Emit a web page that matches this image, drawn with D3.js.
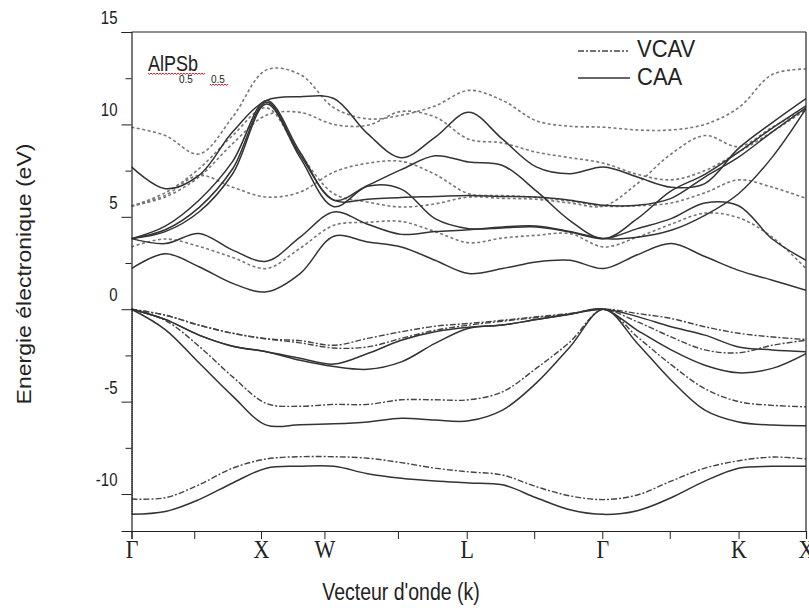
<!DOCTYPE html>
<html>
<head>
<meta charset="utf-8">
<script src="https://cdnjs.cloudflare.com/ajax/libs/d3/7.8.5/d3.min.js"></script>
<style>
  body { margin: 0; background: #fff; }
  text { font-family: "Liberation Sans", Arial, sans-serif; fill: #222; }
</style>
</head>
<body>
<script>
        //k points along the path, 0.5 steps between the symmetry points
        var kGrid = [0,0.5,1,1.5,2,2.5,3,3.5,4,4.5,5,5.5,6,6.5,7,7.5,8,8.5,9,9.5,10];

        //tick marks on the k axis (the original ones are not quite evenly spaced) and their labels
        var kTicks = [0,0.93,1.92,2.86,3.95,4.97,5.97,6.98,7.98,9.0,10];
        var kLabels = ["\u0393","","X","W","","L","","\u0393","","K","X"];

        //energy ticks
        var eMajor = [-10,-5,0,5,10,15];
        var eMinor = [-7.5,-2.5,2.5,7.5,12.5];

        //CAA bands (solid), valence
        var caaValence = [
            [-11.1,-10.95,-10.3,-9.4,-8.6,-8.5,-8.5,-8.9,-9.15,-9.3,-9.4,-9.5,-10.2,-10.85,-11.1,-10.9,-10.2,-9.3,-8.6,-8.5,-8.5],
            [0,-1.1,-2.9,-4.7,-6.27,-6.25,-6.2,-6.1,-5.9,-6.0,-6.04,-5.46,-4.0,-2.04,0,-1.85,-3.84,-5.46,-6.1,-6.27,-6.3],
            [0,-0.55,-1.4,-2.0,-2.3,-2.65,-2.97,-2.4,-1.68,-1.22,-0.98,-0.86,-0.56,-0.27,0,-0.4,-0.95,-1.4,-2.04,-2.2,-2.3],
            [0,-0.55,-1.4,-2.0,-2.3,-2.76,-3.1,-3.25,-2.85,-1.85,-1.03,-0.86,-0.56,-0.27,0,-1.14,-2.2,-3.03,-3.44,-3.2,-2.4]
        ];

        //CAA bands (solid), conduction
        var caaConduction = [
            [2.2,3.0,2.3,1.4,0.94,1.93,3.95,3.64,3.37,2.65,1.93,2.2,2.56,2.65,2.2,2.95,3.55,2.85,2.1,1.57,1.03],
            [3.82,3.55,4.1,3.2,2.6,3.9,5.26,4.6,4.05,4.2,4.3,4.45,4.5,4.2,3.82,3.9,4.27,5.08,6.25,8.23,10.85],
            [3.82,4.2,5.26,7.33,11.1,8.2,5.55,6.65,6.5,4.9,4.36,4.4,4.45,4.18,3.82,4.36,4.9,5.75,5.6,3.8,2.65],
            [3.82,4.5,5.9,8.0,11.3,8.5,5.9,6.7,7.55,8.3,7.96,7.78,6.4,4.8,3.82,4.9,6.4,7.3,8.5,9.8,11.0],
            [3.82,4.3,5.5,7.6,11.2,8.35,5.9,5.95,6.05,6.1,6.16,6.1,6.07,5.9,5.62,5.62,6.0,7.15,8.23,9.6,10.9],
            [7.7,6.52,7.24,9.6,11.3,11.5,11.4,9.5,8.2,9.3,10.66,9.2,7.7,7.33,7.7,7.15,6.6,6.8,8.7,10.1,11.4]
        ];

        //VCAV bands (dashed), valence
        var vcavValence = [
            [-10.27,-10.2,-9.5,-8.6,-8.1,-7.98,-7.98,-8.06,-8.3,-8.6,-8.8,-8.97,-9.6,-10.1,-10.3,-10.05,-9.3,-8.6,-8.2,-8.0,-8.1],
            [0,-0.6,-2.0,-3.66,-5.1,-5.25,-5.15,-5.15,-4.9,-4.9,-4.9,-4.47,-3.2,-1.77,0,-1.5,-3.0,-4.3,-5.0,-5.2,-5.28],
            [0,-0.32,-0.86,-1.3,-1.6,-1.7,-1.95,-1.58,-1.22,-0.92,-0.77,-0.6,-0.41,-0.23,0,-0.23,-0.5,-0.95,-1.3,-1.5,-1.64],
            [0,-0.32,-0.86,-1.3,-1.6,-1.82,-2.1,-2.04,-1.58,-1.14,-0.86,-0.65,-0.45,-0.25,0,-0.68,-1.5,-2.2,-2.36,-1.95,-1.68]
        ];

        //VCAV bands (dashed), conduction
        var vcavConduction = [
            [3.37,3.8,3.4,2.8,2.2,3.3,4.54,4.7,4.75,4.2,3.6,3.85,4.0,4.09,3.37,3.9,4.6,5.2,4.95,3.9,2.2],
            [5.58,6.16,7.24,6.6,6.07,6.34,7.42,7.9,8.0,7.3,6.25,6.15,6.05,5.85,5.58,5.6,5.75,6.3,7.0,6.6,6.0],
            [5.58,6.07,7.15,8.96,10.5,10.65,10.0,9.95,10.7,10.4,9.2,9.0,8.5,8.2,7.9,7.3,7.0,7.5,8.5,9.6,10.8],
            [5.58,6.3,7.6,9.4,10.9,8.4,6.25,5.8,5.53,5.7,6.07,6.0,5.95,5.75,5.58,6.8,8.4,9.4,8.8,9.85,10.85],
            [9.85,9.4,8.4,10.4,12.95,12.7,10.9,10.3,10.5,11.0,11.84,11.3,10.2,9.9,9.85,9.7,9.7,10.0,10.9,12.7,13.0]
        ];

        var width = 809;
        var height = 608;
        //the reference is a little taller than wide, so text gets stretched
        var stretch = 1.18;

        var x = d3.scaleLinear().domain([0, 10]).range([131.5, 806]);
        var y = d3.scaleLinear().domain([-12, 15]).range([531, 32]);

        var svg = d3.select("body")
                    .append("svg")
                    .attr("width", width)
                    .attr("height", height);

        svg.append("defs").append("clipPath").attr("id", "plot")
           .append("rect")
           .attr("x", x(0)).attr("y", y(15))
           .attr("width", x(10) - x(0)).attr("height", y(-12) - y(15));

        //band path generator
        var line = d3.line()
                     .x(function(d, i) { return x(kGrid[i]); })
                     .y(function(d) { return y(d); })
                     .curve(d3.curveCatmullRom.alpha(0.5));

        var bands = svg.append("g").attr("clip-path", "url(#plot)");

        bands.selectAll(".vcv").data(vcavValence).enter().append("path")
             .attr("d", line).attr("fill", "none")
             .attr("stroke", "#444").attr("stroke-width", 1.4)
             .attr("stroke-dasharray", "6,2,2,2");

        bands.selectAll(".vcc").data(vcavConduction).enter().append("path")
             .attr("d", line).attr("fill", "none")
             .attr("stroke", "#777").attr("stroke-width", 1.6)
             .attr("stroke-dasharray", "3,2.5");

        bands.selectAll(".cav").data(caaValence.concat(caaConduction)).enter().append("path")
             .attr("d", line).attr("fill", "none")
             .attr("stroke", "#333").attr("stroke-width", 1.5);

        //dotted gamma line on top of the left axis
        bands.append("line")
             .attr("x1", x(0) + 0.5).attr("x2", x(0) + 0.5)
             .attr("y1", y(0)).attr("y2", y(-11.1))
             .attr("stroke", "#222").attr("stroke-width", 2)
             .attr("stroke-dasharray", "1,1");

        //frame
        svg.append("line").attr("x1", x(0)).attr("x2", x(10)).attr("y1", y(15)).attr("y2", y(15))
           .attr("stroke", "#222").attr("stroke-width", 1.2);
        svg.append("line").attr("x1", x(10)).attr("x2", x(10)).attr("y1", y(15)).attr("y2", y(-12))
           .attr("stroke", "#222").attr("stroke-width", 1.2);

        //y axis, labels sit a bit above their ticks like in the original
        var yAxis = svg.append("g")
           .attr("transform", "translate(" + x(0) + ",0)")
           .call(d3.axisLeft(y).tickValues(eMajor).tickSize(10).tickPadding(4)
                 .tickFormat(function(d) { return String(d); }));
        yAxis.selectAll("text")
             .attr("y", -12)
             .attr("transform", "scale(1," + stretch + ")")
             .attr("font-size", "15px")
             .style("font-family", "Liberation Sans, Arial, sans-serif");
        svg.append("g")
           .attr("transform", "translate(" + x(0) + ",0)")
           .call(d3.axisLeft(y).tickValues(eMinor).tickSize(6).tickFormat(""))
           .select(".domain").remove();

        //x axis
        var xAxis = svg.append("g")
           .attr("transform", "translate(0," + y(-12) + ")")
           .call(d3.axisBottom(x).tickValues(kTicks).tickSize(8).tickPadding(1)
                 .tickFormat(function(d, i) { return kLabels[i]; }));
        xAxis.selectAll("text")
             .attr("transform", "scale(1,1.1)")
             .attr("font-size", "22px")
             .style("font-family", "Liberation Serif, Times New Roman, serif");

        svg.selectAll(".domain").attr("stroke", "#222").attr("stroke-width", 1.2);
        svg.selectAll(".tick line").attr("stroke", "#222");
        svg.selectAll(".tick text").attr("fill", "#222");

        //axis titles
        svg.append("text")
           .attr("transform", "translate(401,600) scale(1," + stretch + ")")
           .style("text-anchor", "middle")
           .attr("font-size", "19.5px")
           .text("Vecteur d'onde (k)");

        svg.append("text")
           .attr("transform", "translate(31,274) scale(1," + stretch + ") rotate(-90)")
           .style("text-anchor", "middle")
           .attr("font-size", "19.5px")
           .text("Energie \u00e9lectronique (eV)");

        //legend
        svg.append("line").attr("x1", 578).attr("x2", 628).attr("y1", 51).attr("y2", 51)
           .attr("stroke", "#444").attr("stroke-width", 1.4).attr("stroke-dasharray", "6,2,2,2");
        svg.append("line").attr("x1", 578).attr("x2", 630).attr("y1", 78).attr("y2", 78)
           .attr("stroke", "#333").attr("stroke-width", 1.5);
        svg.append("text").attr("transform", "translate(637,57) scale(1,1.05)").attr("font-size", "22px").text("VCAV");
        svg.append("text").attr("transform", "translate(637,85) scale(1,1.05)").attr("font-size", "22px").text("CAA");

        //compound name with subscripts
        svg.append("text").attr("transform", "translate(148,71) scale(1," + stretch + ")")
           .attr("font-size", "18px").text("AlPSb");
        svg.append("text").attr("x", 179).attr("y", 83).attr("font-size", "10px").attr("fill", "#666").text("0.5");
        svg.append("text").attr("x", 211).attr("y", 83).attr("font-size", "10px").attr("fill", "#555").text("0.5");

        //red spell-check squiggles under the name
        var squiggle = function(x0, x1, yy) {
            var p = d3.path();
            p.moveTo(x0, yy);
            for (var xx = x0; xx < x1; xx += 3) {
                p.lineTo(xx + 1.5, yy + 1.5);
                p.lineTo(xx + 3, yy);
            }
            return p.toString();
        };
        svg.append("path").attr("d", squiggle(148, 204, 73)).attr("fill", "none").attr("stroke", "#e02020").attr("stroke-width", 1);
        svg.append("path").attr("d", squiggle(210, 228, 84)).attr("fill", "none").attr("stroke", "#e02020").attr("stroke-width", 1);
</script>
</body>
</html>
